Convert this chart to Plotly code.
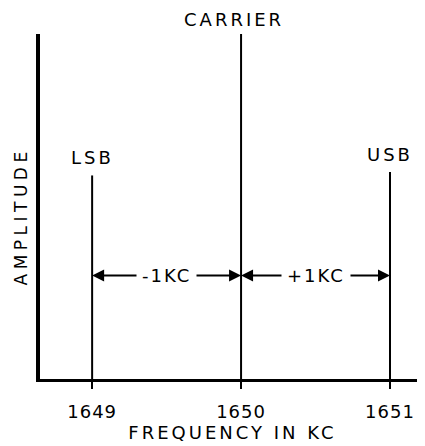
import plotly.graph_objects as go

# Data
labels = ["LSB", "CARRIER", "USB"]
freqs = [1649, 1650, 1651]          # kc
amps = [0.59, 1.0, 0.60]            # relative amplitude
tick_vals = [1649, 1650, 1651]
tick_text = ["1649", "1650", "1651"]
span_labels = ["-1KC", "+1KC"]
arrow_level = 0.30

FONT = "DejaVu Sans"


def spaced(t, px=3):
    return '<span style="letter-spacing:%spx">%s</span>' % (px, t)


fig = go.Figure()

xs, ys = [], []
for f, a in zip(freqs, amps):
    xs += [f, f, None]
    ys += [0, a, None]
fig.add_trace(go.Scatter(x=xs, y=ys, mode="lines",
                         line=dict(color="black", width=2),
                         hoverinfo="skip", showlegend=False))

annotations = []
# Line labels
for lab, f, a in zip(labels, freqs, amps):
    is_car = lab == "CARRIER"
    annotations.append(dict(x=f, y=a, xref="x", yref="y", text=spaced(lab),
                            showarrow=False, yanchor="bottom", borderpad=0,
                            yshift=3 if is_car else 6,
                            xshift=-7 if is_car else 0,
                            font=dict(family=FONT, size=18, color="black")))

# Double arrows between lines
for i in range(2):
    f0, f1 = freqs[i], freqs[i + 1]
    mid = (f0 + f1) / 2
    for end in (f0, f1):
        annotations.append(dict(x=end, y=arrow_level, ax=mid, ay=arrow_level,
                                xref="x", yref="y", axref="x", ayref="y",
                                text="", showarrow=True, arrowhead=2,
                                arrowsize=1.2, arrowwidth=2, arrowcolor="black",
                                standoff=0, startstandoff=0))
    annotations.append(dict(x=mid, y=arrow_level, xref="x", yref="y",
                            text=spaced(span_labels[i], 2), showarrow=False,
                            bgcolor="white", borderpad=5,
                            font=dict(family=FONT, size=18, color="black")))

# Y axis title (placed as annotation to match offset)
annotations.append(dict(x=0, y=0.5, xref="paper", yref="paper",
                        text=spaced("AMPLITUDE", 4.5), textangle=-90,
                        showarrow=False, xanchor="right", yanchor="middle",
                        borderpad=0, xshift=-9, yshift=-10,
                        font=dict(family=FONT, size=17, color="black")))

fig.update_layout(
    width=417, height=438,
    margin=dict(l=32, r=0, t=26, b=67),
    paper_bgcolor="white", plot_bgcolor="white",
    annotations=annotations,
    xaxis=dict(range=[1648.65, 1651.235], showgrid=False, zeroline=False,
               automargin=False,
               showline=True, linecolor="black", linewidth=3,
               ticks="outside", ticklen=7, tickwidth=2, tickcolor="black",
               tickvals=tick_vals, ticktext=[spaced(t, 1) for t in tick_text],
               ticklabelstandoff=7,
               tickfont=dict(family=FONT, size=18, color="black"),
               title=dict(text=spaced("FREQUENCY IN KC"), standoff=5,
                          font=dict(family=FONT, size=18, color="black"))),
    yaxis=dict(range=[0, 1.0], showgrid=False, zeroline=False,
               automargin=False,
               showline=True, linecolor="black", linewidth=4,
               showticklabels=False, ticks=""),
)

fig.write_html("out.html")
